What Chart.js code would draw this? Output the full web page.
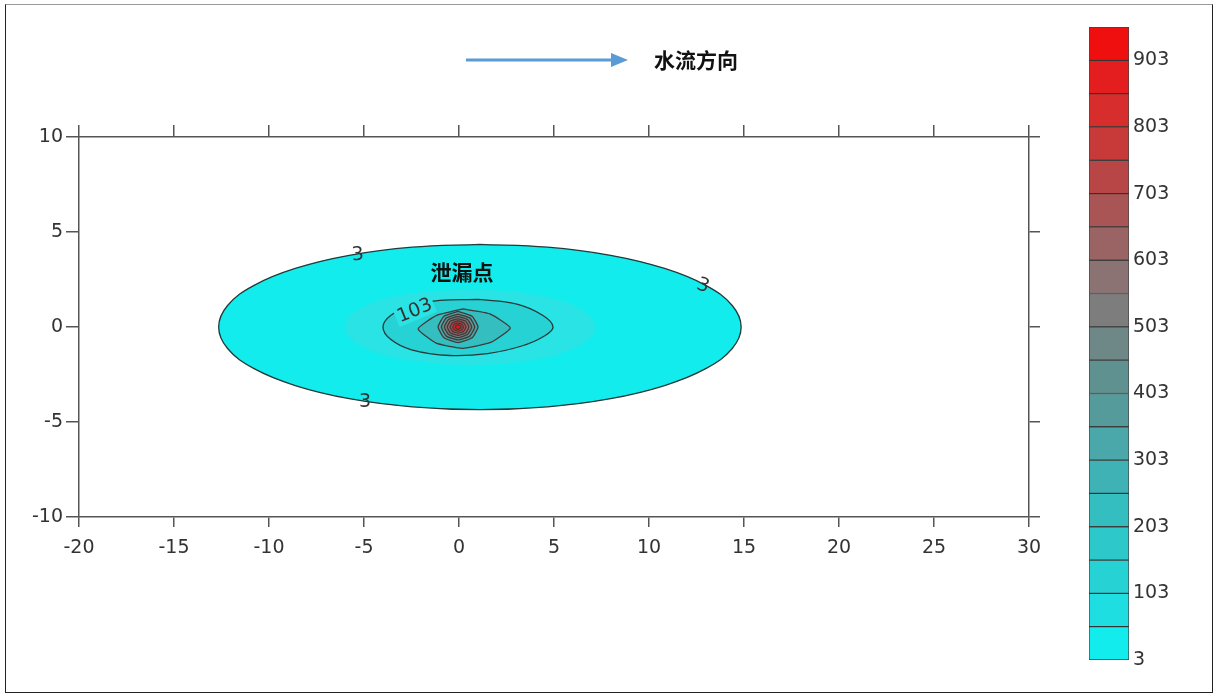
<!DOCTYPE html>
<html lang="zh">

<head>
    <meta charset="UTF-8">
    <title>泄漏点浓度等值线</title>
    <style>
        body {
            margin: 0;
            padding: 0;
            background-color: #fff;
        }

        #wrap {
            position: relative;
            width: 1216px;
            height: 696px;
        }

        #frame {
            position: absolute;
            left: 5px;
            top: 4px;
            width: 1206px;
            height: 687px;
            border: 1px solid #222;
            border-top-color: #999;
            pointer-events: none;
        }

        #mainChart {
            position: absolute;
            left: 0;
            top: 0;
        }

        #barChart {
            position: absolute;
            left: 1080px;
            top: 0;
        }
    </style>
    <script src="https://cdn.jsdelivr.net/npm/chart.js"></script>
</head>

<body>
    <div id="wrap">
        <canvas id="mainChart" width="1216" height="696"></canvas>
        <canvas id="barChart" width="136" height="696"></canvas>
        <div id="frame"></div>
    </div>

    <script>
        // axis ticks
        const xTicks = [-20, -15, -10, -5, 0, 5, 10, 15, 20, 25, 30];
        const yTicks = [-10, -5, 0, 5, 10];
        const colorbarTicks = [3, 103, 203, 303, 403, 503, 603, 703, 803, 903];
        const bandEdges = [3, 53, 103, 153, 203, 253, 303, 353, 403, 453, 503, 553, 603, 653, 703, 753, 803, 853, 903, 953];

        // contour levels and their outlines (x, y)
        const contourLevels = [3, 53, 103, 203, 303, 403, 503, 603, 703, 803, 903];
        const contour3 = [[1.1, 4.35], [4.66, 4.2], [7.98, 3.77], [10.82, 3.08], [13.01, 2.18], [14.38, 1.13], [14.85, 0],
            [14.38, -1.13], [13.01, -2.18], [10.82, -3.08], [7.98, -3.77], [4.66, -4.2], [1.1, -4.35], [-2.46, -4.2],
            [-5.78, -3.77], [-8.62, -3.08], [-10.81, -2.18], [-12.18, -1.13], [-12.65, 0], [-12.18, 1.13], [-10.81, 2.18],
            [-8.62, 3.08], [-5.78, 3.77], [-2.46, 4.2]];
        const contour53 = [[0.57, 2.0], [3.87, 1.73], [6.29, 1.0], [7.17, 0], [6.29, -1.0], [3.87, -1.73], [0.57, -2.0], [-2.73, -1.73],
            [-5.15, -1.0], [-6.03, 0], [-5.15, 1.0], [-2.73, 1.73]];
        const contour103 = [[1.0, 1.45], [3.0, 1.22], [4.4, 0.62], [4.95, 0], [4.45, -0.5], [3.3, -1.0], [1.5, -1.4], [-0.5, -1.5],
            [-2.5, -1.2], [-3.6, -0.65], [-4.0, 0], [-3.6, 0.6], [-2.6, 1.1], [-1.0, 1.4]];
        const contour203 = [[0.2, 0.95], [1.6, 0.7], [2.7, -0.05], [1.7, -0.8], [0.2, -1.12], [-1.2, -0.85], [-2.15, -0.1], [-1.2, 0.6]];
        const contour303 = [[-0.05, 0.82], [0.69, 0.57], [1.0, 0], [0.69, -0.57], [-0.05, -0.82], [-0.79, -0.57], [-1.1, 0], [-0.79, 0.57]];
        const contour403 = [[-0.05, 0.68], [0.57, 0.48], [0.83, 0], [0.57, -0.48], [-0.05, -0.68], [-0.67, -0.48], [-0.93, 0], [-0.67, 0.48]];
        const contour503 = [[-0.05, 0.56], [0.45, 0.39], [0.67, 0], [0.45, -0.39], [-0.05, -0.56], [-0.55, -0.39], [-0.77, 0], [-0.55, 0.39]];
        const contour603 = [[-0.05, 0.44], [0.35, 0.31], [0.52, 0], [0.35, -0.31], [-0.05, -0.44], [-0.45, -0.31], [-0.62, 0], [-0.45, 0.31]];
        const contour703 = [[-0.05, 0.33], [0.24, 0.23], [0.37, 0], [0.24, -0.23], [-0.05, -0.33], [-0.34, -0.23], [-0.47, 0], [-0.34, 0.23]];
        const contour803 = [[-0.05, 0.22], [0.15, 0.15], [0.23, 0], [0.15, -0.15], [-0.05, -0.22], [-0.25, -0.15], [-0.33, 0], [-0.25, 0.15]];
        const contour903 = [[-0.05, 0.12], [0.05, 0.08], [0.1, 0], [0.05, -0.08], [-0.05, -0.12], [-0.15, -0.08], [-0.2, 0], [-0.15, 0.08]];
        const contourShapes = [contour3, contour53, contour103, contour203, contour303, contour403, contour503,
            contour603, contour703, contour803, contour903];

        // contour labels: text, x, y, rotation (deg)
        const contourLabels = [
            ['3', -5.32, 3.79, -5],
            ['3', 12.84, 2.16, 20],
            ['3', -4.95, -3.95, 0],
            ['103', -2.32, 0.84, -22]
        ];
        const leakLabel = ['泄漏点', 0.16, 2.9];
        const flowLabel = '水流方向';

        const bandColors = ['#12ecec', '#1edee1', '#26d2d4', '#2dc8ca', '#34bec0', '#3eb2b4', '#4ba8aa', '#559b9b', '#5f9191',
            '#6e8787', '#7d7d7d', '#8c7373', '#9b6464', '#aa5555', '#b94646', '#c83a3a', '#d72d2d', '#e41e1e', '#f00f0f'];
        const haloColor = '#2ae3e4';
        const axisColor = '#555';
        const textColor = '#333';
        const tickFont = { family: 'DejaVu Sans', size: 19 };

        function bandOf(level) {
            return bandColors[Math.round((level - bandEdges[0]) / 50)];
        }

        const datasets = contourShapes.map((pts, i) => {
            const level = contourLevels[i];
            const lined = level !== 53;
            return {
                data: pts.concat([pts[0]]).map(p => ({ x: p[0], y: p[1] })),
                showLine: true,
                fill: 'shape',
                backgroundColor: lined ? bandOf(level) : haloColor,
                borderColor: lined ? (i < 3 ? '#263838' : '#3f3a3a') : 'rgba(0,0,0,0)',
                borderWidth: lined ? 1.3 : 0,
                tension: i < 3 ? 0.4 : 0.15,
                pointRadius: 0,
                order: contourShapes.length - i
            };
        });

        const overlayPlugin = {
            id: 'overlay',
            afterDatasetsDraw(chart) {
                const ctx = chart.ctx;
                const xs = chart.scales.x;
                const ys = chart.scales.y;
                ctx.save();
                ctx.font = '19px "DejaVu Sans"';
                ctx.textAlign = 'center';
                ctx.textBaseline = 'middle';
                contourLabels.forEach(([text, x, y, rot]) => {
                    const px = xs.getPixelForValue(x);
                    const py = ys.getPixelForValue(y);
                    ctx.save();
                    ctx.translate(px, py);
                    ctx.rotate(rot * Math.PI / 180);
                    if (text !== '3') {
                        const w = ctx.measureText(text).width;
                        ctx.fillStyle = haloColor;
                        ctx.fillRect(-w / 2 - 2, -9, w + 4, 18);
                    }
                    ctx.fillStyle = textColor;
                    ctx.fillText(text, 0, 0);
                    ctx.restore();
                });
                ctx.font = 'bold 21px "Noto Sans CJK SC"';
                ctx.fillStyle = '#111';
                ctx.fillText(leakLabel[0], xs.getPixelForValue(leakLabel[1]), ys.getPixelForValue(leakLabel[2]));
                ctx.restore();
            },
            afterDraw(chart) {
                const ctx = chart.ctx;
                ctx.save();
                ctx.strokeStyle = '#5b9bd5';
                ctx.fillStyle = '#5b9bd5';
                ctx.lineWidth = 3;
                ctx.beginPath();
                ctx.moveTo(466, 60);
                ctx.lineTo(614, 60);
                ctx.stroke();
                ctx.beginPath();
                ctx.moveTo(628, 60);
                ctx.lineTo(611, 53);
                ctx.lineTo(611, 67);
                ctx.closePath();
                ctx.fill();
                ctx.font = 'bold 21px "Noto Sans CJK SC"';
                ctx.fillStyle = '#111';
                ctx.textBaseline = 'middle';
                ctx.fillText(flowLabel, 654, 60);
                ctx.restore();
            }
        };

        function axis(position, ticksList, min, max, size, tickLen, showLabels, pad) {
            return {
                type: 'linear',
                position: position,
                min: min,
                max: max,
                afterBuildTicks: s => { s.ticks = ticksList.map(v => ({ value: v })); },
                afterFit: s => {
                    if (position === 'top' || position === 'bottom') s.height = size;
                    else s.width = size;
                },
                grid: { drawOnChartArea: false, color: axisColor, lineWidth: 1.5, tickLength: tickLen },
                border: { color: axisColor, width: 1.5 },
                ticks: { display: showLabels, font: tickFont, color: textColor, padding: pad, maxRotation: 0 }
            };
        }

        new Chart(document.getElementById('mainChart'), {
            type: 'scatter',
            data: { datasets: datasets },
            options: {
                responsive: false,
                animation: false,
                layout: { padding: 0 },
                plugins: { legend: { display: false }, tooltip: { enabled: false } },
                scales: {
                    x: axis('bottom', xTicks, -20, 30, 179, 10, true, 10),
                    x2: axis('top', xTicks, -20, 30, 137, 12, false, 3),
                    y: axis('left', yTicks, -10, 10, 79, 13, true, 3),
                    y2: axis('right', yTicks, -10, 10, 187, 11, false, 3)
                }
            },
            plugins: [overlayPlugin]
        });

        // colour bar as floating bands
        new Chart(document.getElementById('barChart'), {
            type: 'bar',
            data: {
                labels: [''],
                datasets: bandEdges.slice(0, -1).map((lo, i) => ({
                    data: [[lo, bandEdges[i + 1]]],
                    backgroundColor: bandColors[i],
                    borderColor: 'rgba(35,35,35,0.85)',
                    borderWidth: 1,
                    borderSkipped: false,
                    grouped: false,
                    barPercentage: 1,
                    categoryPercentage: 1
                }))
            },
            options: {
                responsive: false,
                animation: false,
                layout: { padding: { left: 9, top: 27, bottom: 36, right: 0 } },
                plugins: { legend: { display: false }, tooltip: { enabled: false } },
                scales: {
                    x: { display: false },
                    y: {
                        position: 'right',
                        min: bandEdges[0],
                        max: bandEdges[bandEdges.length - 1],
                        afterBuildTicks: s => { s.ticks = colorbarTicks.map(v => ({ value: v })); },
                        afterFit: s => { s.width = 87; },
                        grid: { display: false, drawTicks: false },
                        border: { display: false },
                        ticks: { font: tickFont, color: textColor, padding: 4 }
                    }
                }
            }
        });
    </script>
</body>

</html>
